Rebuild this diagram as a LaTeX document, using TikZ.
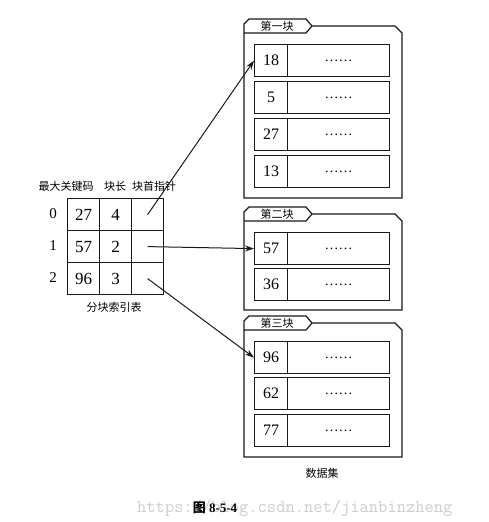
\documentclass[tikz,border=0pt]{standalone}
\usepackage{fontspec}
\setmainfont{Liberation Serif}
\newfontfamily\cjk{Noto Sans CJK SC}
\usetikzlibrary{arrows.meta}
\begin{document}
\begin{tikzpicture}[x=1pt,y=-1pt,
  frame/.style={line width=1.2pt, draw=black!90},
  cell/.style={draw=black!90, line width=1.2pt, minimum width=32pt, minimum height=32pt, inner sep=0pt, anchor=north west, font=\fontsize{17}{17}\selectfont},
  keycell/.style={draw=black!90, line width=1.2pt, minimum width=33pt, minimum height=32pt, inner sep=0pt, anchor=north west, font=\fontsize{16}{16}\selectfont},
  valcell/.style={draw=black!90, line width=1.2pt, minimum width=102pt, minimum height=32pt, inner sep=0pt, anchor=north west, font=\fontsize{14}{14}\selectfont},
  lbl/.style={font=\cjk\fontsize{11}{11}\selectfont, inner sep=0pt},
  idx/.style={font=\fontsize{15}{15}\selectfont, inner sep=0pt},
  ptr/.style={-{Stealth[length=9pt,width=6pt]}, line width=1pt, draw=black!90}]
\useasboundingbox (0,0) rectangle (488,522);

% index table
\node[lbl] (h1) at (66,186) {最大关键码};
\node[lbl] (h2) at (115,186) {块长};
\node[lbl] (h3) at (154,186) {块首指针};
\node[cell] (k0) at (67,198) {27};
\node[cell] (l0) at (99,198) {4};
\node[cell] (p0) at (131,198) {};
\node[cell] (k1) at (67,230) {57};
\node[cell] (l1) at (99,230) {2};
\node[cell] (p1) at (131,230) {};
\node[cell] (k2) at (67,262) {96};
\node[cell] (l2) at (99,262) {3};
\node[cell] (p2) at (131,262) {};
\node[idx] (i0) at (53,214) {0};
\node[idx] (i1) at (53,246) {1};
\node[idx] (i2) at (53,278) {2};
\node[lbl] (tcap) at (114,307) {分块索引表};

% block frames
\foreach \T/\B in {19/198, 207/310, 316/457}{
  \draw[frame] (244,\T+14) -- (306,\T+14) -- (312,\T+7) -- (306,\T) -- (249,\T)
    -- (244,\T+5) -- (244,\B) -- (402,\B) -- (402,\T+14) -- (395,\T+7) -- (312,\T+7);
}
\node[lbl] (t1) at (277,26) {第一块};
\node[lbl] (t2) at (277,214) {第二块};
\node[lbl] (t3) at (277,323) {第三块};

% block 1
\node[keycell] (b1k1) at (254,44) {18};
\node[valcell] (b1v1) at (287,44) {……};
\node[keycell] (b1k2) at (254,81) {5};
\node[valcell] (b1v2) at (287,81) {……};
\node[keycell] (b1k3) at (254,118) {27};
\node[valcell] (b1v3) at (287,118) {……};
\node[keycell] (b1k4) at (254,155) {13};
\node[valcell] (b1v4) at (287,155) {……};
% block 2
\node[keycell] (b2k1) at (254,232) {57};
\node[valcell] (b2v1) at (287,232) {……};
\node[keycell] (b2k2) at (254,268) {36};
\node[valcell] (b2v2) at (287,268) {……};
% block 3
\node[keycell] (b3k1) at (254,341) {96};
\node[valcell] (b3v1) at (287,341) {……};
\node[keycell] (b3k2) at (254,377) {62};
\node[valcell] (b3v2) at (287,377) {……};
\node[keycell] (b3k3) at (254,414) {77};
\node[valcell] (b3v3) at (287,414) {……};
\node[lbl] (dcap) at (322,473) {数据集};

% pointers
\draw[ptr] (p0.center) -- (b1k1.west);
\draw[ptr] (p1.center) -- (b2k1.west);
\draw[ptr] (p2.center) -- (b3k1.west);

% watermark and caption
\node[anchor=west, inner sep=0pt, text=black!20, font=\ttfamily\fontsize{18}{18}\selectfont] (wm) at (137,508) {https://blog.csdn.net/jianbinzheng};
\node[inner sep=0pt, font=\bfseries\fontsize{13}{13}\selectfont] (fcap) at (215,508) {{\cjk\bfseries 图} 8-5-4};
\end{tikzpicture}
\end{document}
